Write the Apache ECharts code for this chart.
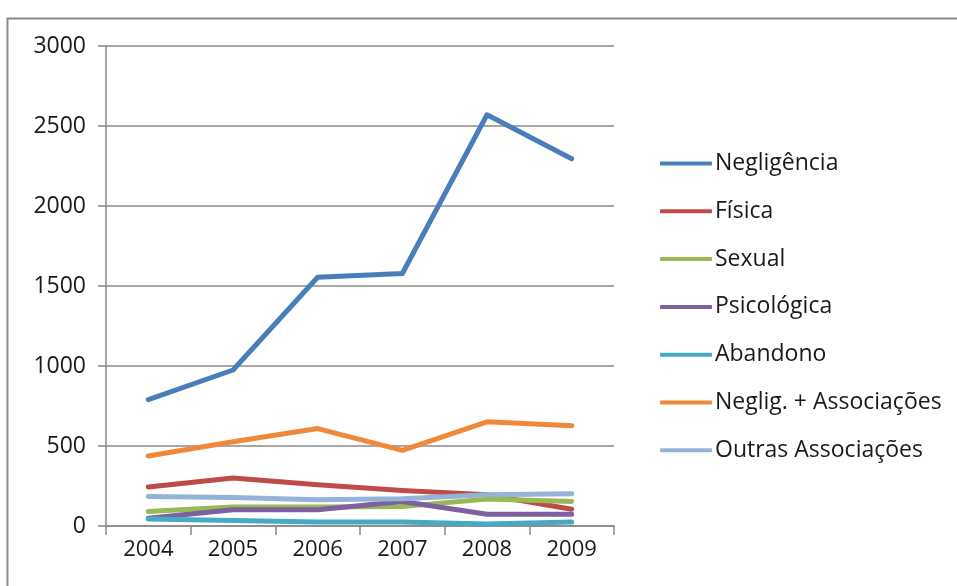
<!DOCTYPE html>
<html><head><meta charset="utf-8">
<script src="https://cdn.jsdelivr.net/npm/echarts@6/dist/echarts.min.js"></script>
<style>html,body{margin:0;padding:0;background:#fff;}#c{width:957px;height:586px;}</style>
</head><body><div id="c"></div>
<script>
const years = ['2004','2005','2006','2007','2008','2009'];
const negligencia = [790, 975, 1555, 1578, 2570, 2295];
const fisica = [244, 300, 258, 222, 195, 105];
const sexual = [90, 118, 118, 122, 168, 153];
const psicologica = [48, 101, 101, 153, 74, 74];
const abandono = [44, 34, 25, 25, 12, 25];
const neglAssoc = [437, 527, 609, 473, 651, 626];
const outrasAssoc = [185, 178, 164, 170, 195, 202];
const seriesNames = ['Negligência','Física','Sexual','Psicológica','Abandono','Neglig. + Associações','Outras Associações'];
const seriesData = [negligencia, fisica, sexual, psicologica, abandono, neglAssoc, outrasAssoc];
const colors = ['#4A7EBB','#BE4B48','#98B954','#7D60A0','#46AAC5','#F0883A','#95B3D7'];
const yTicks = [0, 500, 1000, 1500, 2000, 2500, 3000];

const font = 'Open Sans';
const chart = echarts.init(document.getElementById('c'));
chart.setOption({
  animation: false,
  color: colors,
  graphic: [{
    type: 'rect', left: 5, top: 16, shape: {width: 1000, height: 600},
    style: {fill: 'none', stroke: '#8a8a8a', lineWidth: 2}, silent: true, z: -1
  }],
  grid: {left: 106, right: 343, top: 46, bottom: 60},
  legend: {
    orient: 'vertical', left: 655, top: 147,
    icon: 'roundRect', itemWidth: 52, itemHeight: 4, itemGap: 24.8,
    textStyle: {fontFamily: font, fontSize: 23, lineHeight: 20, color: '#1a1a1a', padding: [0,0,0,-2]},
    data: seriesNames
  },
  xAxis: {
    type: 'category', data: years, boundaryGap: true,
    axisLine: {lineStyle: {color: '#888', width: 1.5}},
    axisTick: {show: true, length: 9, lineStyle: {color: '#888', width: 1.5}},
    axisLabel: {fontFamily: font, fontSize: 22, color: '#1a1a1a', margin: 13}
  },
  yAxis: {
    type: 'value', min: yTicks[0], max: yTicks[yTicks.length-1], interval: 500,
    axisLine: {show: true, lineStyle: {color: '#888', width: 1.5}},
    axisTick: {show: true, length: 8, lineStyle: {color: '#888', width: 1.5}},
    splitLine: {lineStyle: {color: '#8a8a8a', width: 1.5}},
    axisLabel: {fontFamily: font, fontSize: 23, color: '#1a1a1a', margin: 20, formatter: v => String(v)}
  },
  series: seriesNames.map((n, i) => ({
    name: n, type: 'line', data: seriesData[i], symbol: 'none',
    lineStyle: {width: 5, cap: 'round', join: 'round'}
  }))
});
</script></body></html>
